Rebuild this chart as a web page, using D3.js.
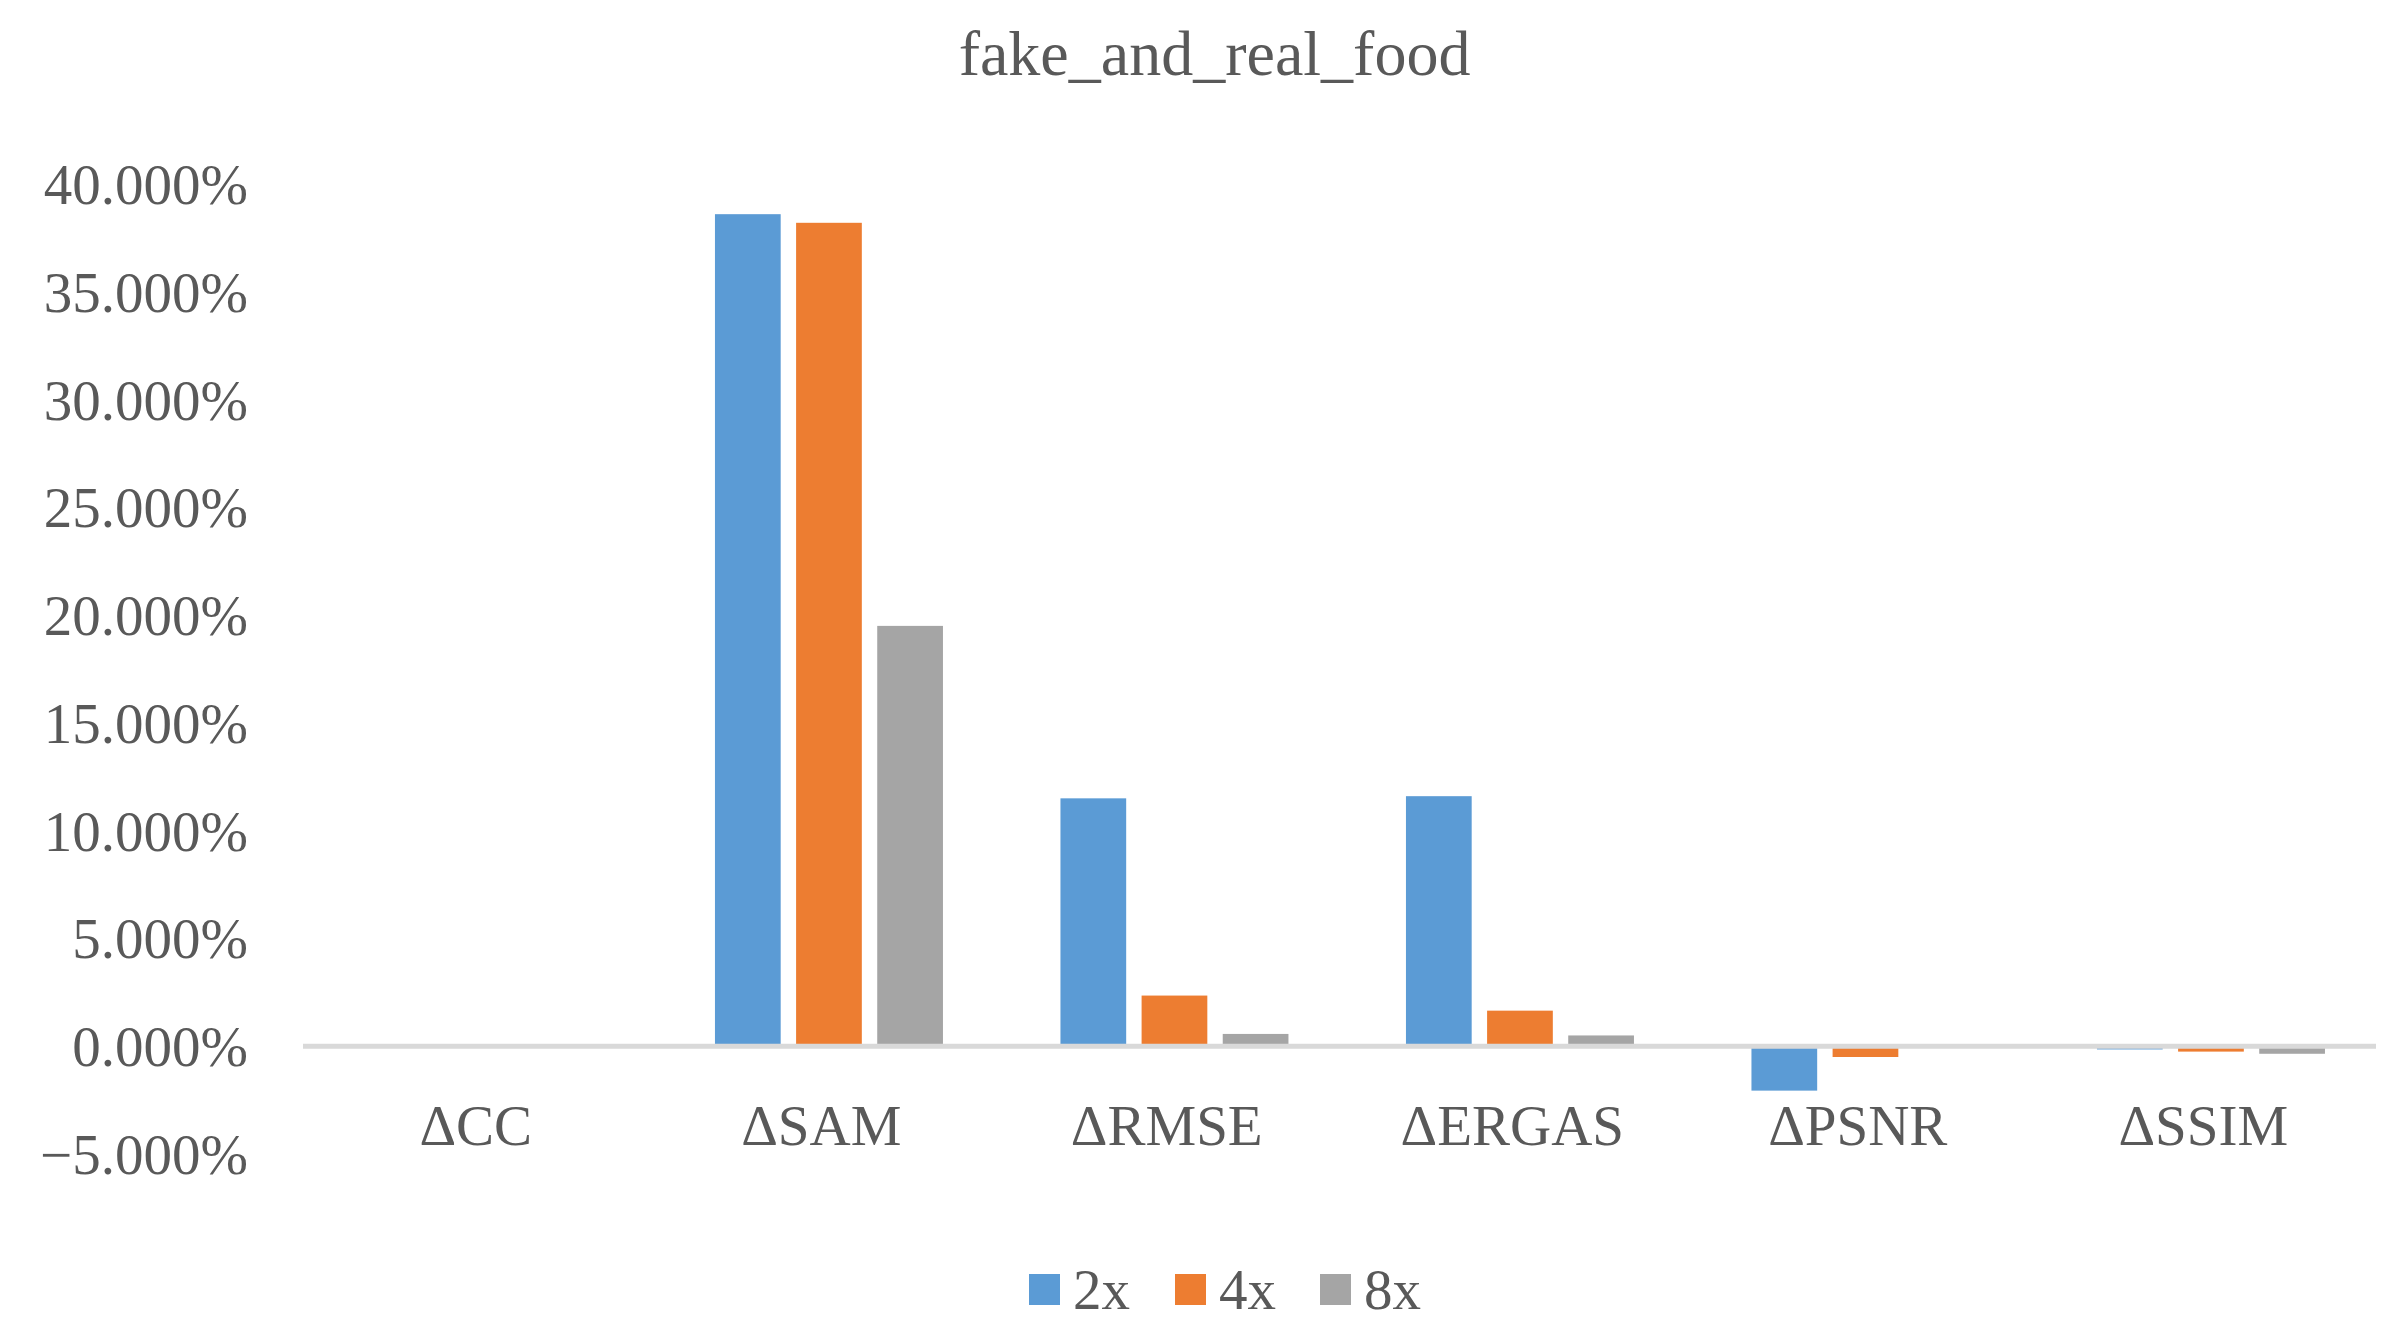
<html>
<head>
<script src="https://d3js.org/d3.v7.min.js"></script>
<style>
  body { margin: 0; background: #fff; }
  text { font-family: 'Liberation Serif', 'Times New Roman', serif; fill: #595959; }
</style>
</head>
<body>
<script>
var categories = ["ΔCC", "ΔSAM", "ΔRMSE", "ΔERGAS", "ΔPSNR", "ΔSSIM"];
var seriesNames = ["2x", "4x", "8x"];
var s2x = [0, 38.6, 11.5, 11.6, -2.06, -0.15];
var s4x = [0, 38.2, 2.35, 1.65, -0.5, -0.25];
var s8x = [0, 19.5, 0.57, 0.5, 0, -0.35];
var yTicks = [-5, 0, 5, 10, 15, 20, 25, 30, 35, 40];
var colors = ["#5b9bd5", "#ed7d31", "#a5a5a5"];

var width = 2389, height = 1325;
var svg = d3.select("body").append("svg").attr("width", width).attr("height", height);

var x = d3.scaleBand().domain(categories).range([303, 2376]);
var y = d3.scaleLinear().domain([-5, 40]).range([1154, 184]);
var inner = d3.scaleBand().domain(seriesNames).range([0, 3 * 76]).paddingInner(0.19);

svg.append("text").attr("x", width / 2 + 20).attr("y", 75).attr("text-anchor", "middle")
  .attr("font-size", 64).text("fake_and_real_food");

// y tick labels
svg.selectAll(".ytick").data(yTicks).enter().append("text")
  .attr("x", 248).attr("y", function(d) { return y(d) + 20; })
  .attr("text-anchor", "end").attr("font-size", 57)
  .text(function(d) { return d3.format(".3f")(d) + "%"; });

var series = [s2x, s4x, s8x];
var groupW = 3 * 76 - inner.step() * 0.19;
series.forEach(function(vals, si) {
  svg.selectAll(".bar" + si).data(vals).enter().append("rect")
    .attr("x", function(d, i) { return x(categories[i]) + x.bandwidth() / 2 - groupW / 2 + inner(seriesNames[si]); })
    .attr("y", function(d) { return y(Math.max(0, d)); })
    .attr("width", inner.bandwidth())
    .attr("height", function(d) { return Math.abs(y(d) - y(0)); })
    .attr("fill", colors[si]);
});

// zero line
svg.append("line").attr("x1", 303).attr("x2", 2376).attr("y1", y(0)).attr("y2", y(0))
  .attr("stroke", "#d9d9d9").attr("stroke-width", 5);

// category labels
svg.selectAll(".cat").data(categories).enter().append("text")
  .attr("x", function(d) { return x(d) + x.bandwidth() / 2; })
  .attr("y", 1145).attr("text-anchor", "middle").attr("font-size", 57)
  .text(function(d) { return d; });

// legend
var legX = [1029, 1175, 1320];
seriesNames.forEach(function(n, i) {
  svg.append("rect").attr("x", legX[i]).attr("y", 1274).attr("width", 31).attr("height", 31).attr("fill", colors[i]);
  svg.append("text").attr("x", legX[i] + 44).attr("y", 1309).attr("font-size", 57).text(n);
});
</script>
</body>
</html>
